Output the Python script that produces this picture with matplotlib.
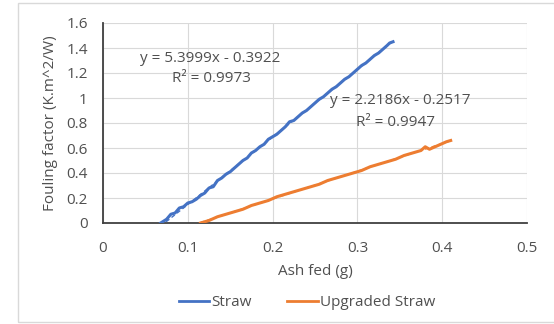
import matplotlib
matplotlib.use("Agg")
import matplotlib.pyplot as plt
from matplotlib.lines import Line2D
from matplotlib.patches import Rectangle
import numpy as np

# ---- data ----
straw_x = [0.068, 0.075, 0.080, 0.085, 0.090, 0.095, 0.100, 0.105, 0.110, 0.115,
           0.120, 0.125, 0.130, 0.135, 0.140, 0.145, 0.150, 0.155, 0.160, 0.165,
           0.170, 0.175, 0.180, 0.185, 0.190, 0.195, 0.200, 0.205, 0.210, 0.215,
           0.220, 0.225, 0.230, 0.235, 0.240, 0.245, 0.250, 0.255, 0.260, 0.265,
           0.270, 0.275, 0.280, 0.285, 0.290, 0.295, 0.300, 0.305, 0.310, 0.315,
           0.320, 0.325, 0.330, 0.335, 0.338, 0.342]
straw_y = [0.00, 0.03, 0.07, 0.08, 0.12, 0.13, 0.16, 0.17, 0.19, 0.22,
           0.24, 0.28, 0.29, 0.34, 0.36, 0.39, 0.41, 0.44, 0.47, 0.50,
           0.52, 0.56, 0.58, 0.61, 0.63, 0.67, 0.69, 0.71, 0.74, 0.77,
           0.81, 0.82, 0.85, 0.88, 0.90, 0.93, 0.96, 0.99, 1.01, 1.04,
           1.07, 1.09, 1.12, 1.15, 1.17, 1.20, 1.23, 1.26, 1.28, 1.31,
           1.34, 1.36, 1.39, 1.42, 1.44, 1.45]

upg_x = [0.115, 0.125, 0.135, 0.145, 0.155, 0.165, 0.175, 0.185, 0.195, 0.205,
         0.215, 0.225, 0.235, 0.245, 0.255, 0.265, 0.275, 0.285, 0.295, 0.305,
         0.315, 0.325, 0.335, 0.345, 0.355, 0.365, 0.375, 0.380, 0.385, 0.395,
         0.405, 0.410]
upg_y = [0.00, 0.02, 0.05, 0.07, 0.09, 0.11, 0.14, 0.16, 0.18, 0.21,
         0.23, 0.25, 0.27, 0.29, 0.31, 0.34, 0.36, 0.38, 0.40, 0.42,
         0.45, 0.47, 0.49, 0.51, 0.54, 0.56, 0.58, 0.61, 0.59, 0.62,
         0.65, 0.66]

straw_fit = (5.3999, -0.3922, 0.9973)
upg_fit = (2.2186, -0.2517, 0.9947)

x_ticks = [0, 0.1, 0.2, 0.3, 0.4, 0.5]
y_ticks = [0, 0.2, 0.4, 0.6, 0.8, 1.0, 1.2, 1.4, 1.6]
x_labels = ["0", "0.1", "0.2", "0.3", "0.4", "0.5"]
y_labels = ["0", "0.2", "0.4", "0.6", "0.8", "1", "1.2", "1.4", "1.6"]

BLUE = "#4472C4"
ORANGE = "#ED7D31"
TXT = "#505050"
FS = 11

plt.rcParams['font.family'] = ['Open Sans', 'DejaVu Sans']

fig = plt.figure(figsize=(5.54, 3.24), dpi=100)
fig.patches.append(Rectangle((18 / 554, 1 - 322 / 324), 1.2, (322 - 3) / 324,
                             transform=fig.transFigure, fill=False,
                             edgecolor="#D9D9D9", linewidth=1.0))
ax = fig.add_axes([103 / 554, 1 - 223 / 324, (527 - 103) / 554, (223 - 23) / 324])

ax.plot(straw_x, straw_y, color=BLUE, lw=2.2, label="Straw", zorder=3)
ax.plot(upg_x, upg_y, color=ORANGE, lw=2.2, label="Upgraded Straw", zorder=3)

for (m, b, r2), xs, c in [(straw_fit, straw_x, BLUE), (upg_fit, upg_x, ORANGE)]:
    xx = np.array([min(xs), max(xs)])
    ax.plot(xx, m * xx + b, color=c, lw=1.0, ls=(0, (3, 2)), zorder=4)

ax.text(0.126, 1.32, f"y = {straw_fit[0]:.4f}x - {abs(straw_fit[1]):.4f}",
        ha="center", va="center", fontsize=FS, color=TXT)
ax.text(0.128, 1.152, f"R² = {straw_fit[2]:.4f}",
        ha="center", va="center", fontsize=FS, color=TXT)
ax.text(0.351, 0.984, f"y = {upg_fit[0]:.4f}x - {abs(upg_fit[1]):.4f}",
        ha="center", va="center", fontsize=FS, color=TXT)
ax.text(0.345, 0.80, f"R² = {upg_fit[2]:.4f}",
        ha="center", va="center", fontsize=FS, color=TXT)

ax.set_xlim(0, 0.5)
ax.set_ylim(0, 1.6)
ax.set_xticks(x_ticks)
ax.set_xticklabels(x_labels)
ax.set_yticks(y_ticks)
ax.set_yticklabels(y_labels)
ax.tick_params(length=0, labelsize=FS, labelcolor=TXT)
ax.tick_params(axis="x", pad=13)
ax.tick_params(axis="y", pad=11)
ax.grid(True, color="#D9D9D9", lw=0.8)
ax.set_axisbelow(True)
for s in ["top", "right"]:
    ax.spines[s].set_visible(False)
for s in ["left", "bottom"]:
    ax.spines[s].set_color("#404040")
    ax.spines[s].set_linewidth(1.3)

ax.set_xlabel("Ash fed (g)", fontsize=FS, color=TXT, labelpad=6)
ax.set_ylabel("Fouling factor (K.m^2/W)", fontsize=FS, color=TXT, labelpad=6)

handles = [Line2D([], [], color=BLUE, lw=2), Line2D([], [], color=ORANGE, lw=2)]
fig.legend(handles, ["Straw", "Upgraded Straw"], loc="center",
           bbox_to_anchor=(307 / 554, 1 - 303 / 324), ncol=2, frameon=False,
           fontsize=FS, labelcolor=TXT, handlelength=2.0, handletextpad=0.15,
           columnspacing=2.3)

fig.savefig("out.png", dpi=100)
